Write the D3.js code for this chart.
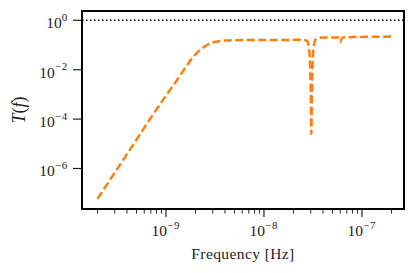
<!DOCTYPE html>
<html><head><meta charset="utf-8">
<script src="https://cdn.jsdelivr.net/npm/d3@7"></script>
<style>body{margin:0;background:#fff}svg{display:block}text{font-family:"Liberation Serif","DejaVu Serif",serif;fill:#222}</style>
</head><body><svg id="c" width="416" height="273"></svg>
<script>
// frequency [Hz]
const freq = [2e-10,3e-10,4e-10,5e-10,7e-10,1e-9,1.3e-9,1.6e-9,2e-9,2.4e-9,2.8e-9,3.2e-9,3.6e-9,4e-9,6e-9,1e-8,1.6e-8,2.2e-8,2.6e-8,2.75e-8,2.85e-8,2.92e-8,2.97e-8,3.01e-8,3.04e-8,3.08e-8,3.13e-8,3.2e-8,3.3e-8,3.45e-8,3.7e-8,4.2e-8,5e-8,5.7e-8,5.95e-8,6.05e-8,6.2e-8,6.6e-8,8e-8,1e-7,1.4e-7,2e-7];
// log10 of transfer function T(f)
const logT = [-7.23,-6.17,-5.42,-4.83,-3.95,-3.05,-2.41,-1.88,-1.38,-1.1,-0.94,-0.87,-0.84,-0.82,-0.80,-0.80,-0.795,-0.79,-0.80,-0.84,-1.0,-1.4,-2.1,-3.3,-4.6,-3.1,-1.9,-1.15,-0.85,-0.74,-0.71,-0.70,-0.695,-0.70,-0.78,-0.88,-0.75,-0.69,-0.68,-0.675,-0.665,-0.66];
const xMajor = [1e-9,1e-8,1e-7];
const xMajorLabels = ["\u22129","\u22128","\u22127"];
const yMajor = [1,1e-2,1e-4,1e-6];
const yMajorLabels = ["0","\u22122","\u22124","\u22126"];
const refLevel = 1;

const FONT='"Liberation Serif","DejaVu Serif",serif';
const L=82,R=404,T=11,B=209;
const svg=d3.select("#c");
const x=d3.scaleLog().domain([Math.pow(10,-9.857),Math.pow(10,-6.571)]).range([L,R]);
const y=d3.scaleLog().domain([Math.pow(10,-7.64),Math.pow(10,0.3765)]).range([B,T]);

// minor x ticks
const minor=[];
[1e-10,1e-9,1e-8,1e-7].forEach(d=>{for(let k=2;k<=9;k++){const v=d*k;if(x(v)>=L&&x(v)<=R)minor.push(v);}});
svg.selectAll(".mt").data(minor).enter().append("line")
 .attr("x1",d=>x(d)).attr("x2",d=>x(d)).attr("y1",B).attr("y2",B+4.5).attr("stroke","#222").attr("stroke-width",1);
svg.selectAll(".xt").data(xMajor).enter().append("line")
 .attr("x1",d=>x(d)).attr("x2",d=>x(d)).attr("y1",B).attr("y2",B+8).attr("stroke","#222").attr("stroke-width",1.2);
const xl=svg.selectAll(".xl").data(xMajor).enter().append("text")
 .attr("x",d=>x(d)).attr("y",236).attr("text-anchor","middle").attr("font-size",15.5).attr("font-family",FONT);
xl.append("tspan").text("10");
xl.append("tspan").attr("dy",-7.5).attr("font-size",11).attr("letter-spacing",0.8).text((d,i)=>xMajorLabels[i]);

svg.selectAll(".yt").data(yMajor).enter().append("line")
 .attr("x1",L-9).attr("x2",L).attr("y1",d=>y(d)).attr("y2",d=>y(d)).attr("stroke","#222").attr("stroke-width",1.2);
const yl=svg.selectAll(".yl").data(yMajor).enter().append("text")
 .attr("x",68).attr("y",d=>y(d)+8).attr("text-anchor","end").attr("font-size",15.5).attr("font-family",FONT);
yl.append("tspan").text("10");
yl.append("tspan").attr("dy",-7.5).attr("font-size",11).attr("letter-spacing",0.8).text((d,i)=>yMajorLabels[i]);

// reference line
svg.append("line").attr("x1",L).attr("x2",R).attr("y1",y(refLevel)).attr("y2",y(refLevel))
 .attr("stroke","#000").attr("stroke-width",1.5).attr("stroke-dasharray","1.5,2.5");

// curve
const pts=freq.map((f,i)=>[f,Math.pow(10,logT[i])]);
svg.append("path").datum(pts)
 .attr("d",d3.line().x(d=>x(d[0])).y(d=>y(d[1])).curve(d3.curveMonotoneX))
 .attr("fill","none").attr("stroke","#ff7f0e").attr("stroke-width",2.5).attr("stroke-dasharray","8,3.5");

// frame
svg.append("rect").attr("x",L).attr("y",T).attr("width",R-L).attr("height",B-T)
 .attr("fill","none").attr("stroke","#000").attr("stroke-width",2);

// axis labels
svg.append("text").attr("x",(L+R)/2+0).attr("y",259).attr("text-anchor","middle").attr("font-size",15.5)
 .attr("font-family",FONT).attr("letter-spacing",0.4).text("Frequency [Hz]");
const ylab=svg.append("text").attr("transform","translate(25,110) rotate(-90)").attr("text-anchor","middle")
 .attr("font-size",18).attr("font-family",FONT);
ylab.append("tspan").attr("font-style","italic").text("T");
ylab.append("tspan").text("(");
ylab.append("tspan").attr("font-style","italic").text("f");
ylab.append("tspan").text(")");
</script></body></html>
